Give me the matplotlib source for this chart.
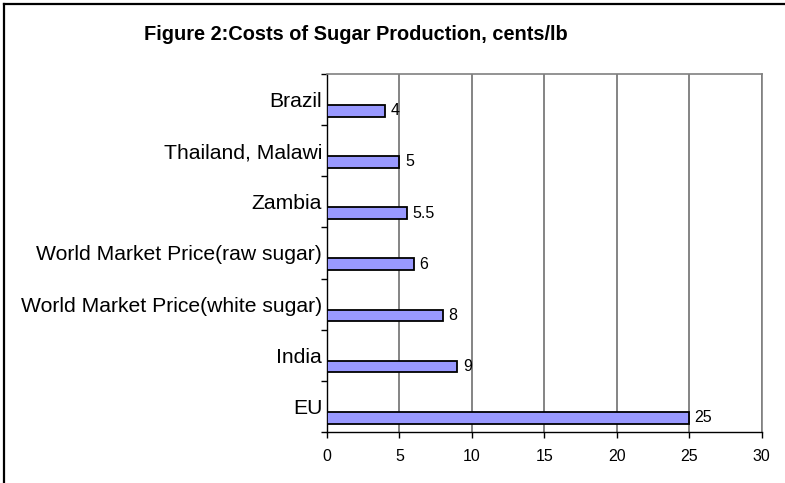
import matplotlib
matplotlib.use("Agg")
import matplotlib.pyplot as plt
from matplotlib.lines import Line2D
import numpy as np

categories = ["Brazil", "Thailand, Malawi", "Zambia", "World Market Price(raw sugar)",
              "World Market Price(white sugar)", "India", "EU"]
values = [4, 5, 5.5, 6, 8, 9, 25]
value_labels = ["4", "5", "5.5", "6", "8", "9", "25"]
x_ticks = [0, 5, 10, 15, 20, 25, 30]
title = "Figure 2:Costs of Sugar Production, cents/lb"

plt.rcParams['font.family'] = ['Liberation Sans', 'DejaVu Sans']

W, H = 785, 483
fig = plt.figure(figsize=(W / 100, H / 100), dpi=100)
fig.patch.set_facecolor("white")

# figure border (top and left visible)
fig.add_artist(Line2D([4 / W, 4 / W], [0, 1 - 4 / H], transform=fig.transFigure, color="black", lw=1.6))
fig.add_artist(Line2D([4 / W, 1], [1 - 4 / H, 1 - 4 / H], transform=fig.transFigure, color="black", lw=1.6))

left, right = 327 / W, 761.5 / W
bottom, top = 1 - 432 / H, 1 - 74 / H
ax = fig.add_axes([left, bottom, right - left, top - bottom])

n = len(categories)
idx = np.arange(n)
ycent = idx + 0.72
ax.barh(ycent, values, height=0.23, color="#9999FF", edgecolor="black", linewidth=1.3, zorder=3)

for yc, v, lab in zip(ycent, values, value_labels):
    ax.annotate(lab, xy=(v, yc), xytext=(4, 0), textcoords="offset points",
                ha="left", va="center", fontsize=11.5, zorder=4)

ax.set_xlim(0, 30)
ax.set_ylim(n, 0)
ax.set_xticks(x_ticks)
ax.set_xticklabels([str(t) for t in x_ticks], fontsize=11.5)
ax.tick_params(axis="x", direction="out", length=4, width=1, pad=8, colors="black")

ax.set_yticks(idx + 0.5)
ax.set_yticklabels(categories, fontsize=15.2)
ax.set_yticks(np.arange(n + 1), minor=True)
ax.tick_params(axis="y", which="major", length=0, pad=3.5)
ax.tick_params(axis="y", which="minor", direction="out", length=4, width=1, color="black")

ax.xaxis.grid(True, color="#707070", linewidth=1.2, zorder=0)
ax.set_axisbelow(True)

for s in ["left", "bottom"]:
    ax.spines[s].set_color("black")
    ax.spines[s].set_linewidth(1.0)
for s in ["top", "right"]:
    ax.spines[s].set_color("#808080")
    ax.spines[s].set_linewidth(1.2)

fig.text(356 / W, 1 - 34 / H, title, ha="center", va="center", fontsize=14.4, fontweight="bold")

fig.savefig("out.png", dpi=100)
